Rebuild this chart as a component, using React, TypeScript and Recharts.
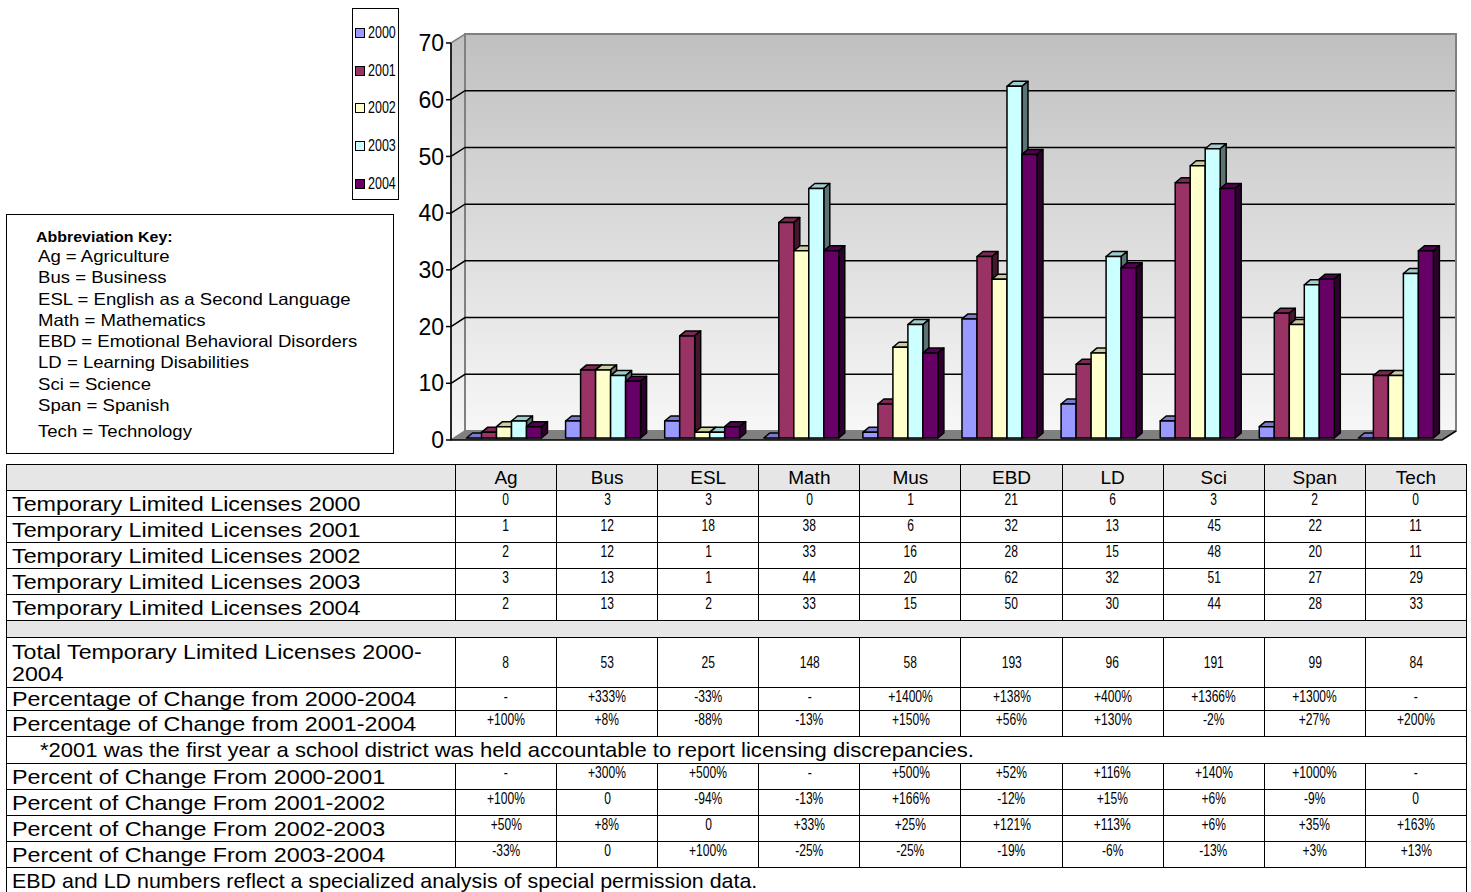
import React from 'react';
import { Bar, BarChart, ReferenceArea, XAxis, YAxis } from 'recharts';

const CATEGORIES = ['Ag', 'Bus', 'ESL', 'Math', 'Mus', 'EBD', 'LD', 'Sci', 'Span', 'Tech'];
const YEARS = ['2000', '2001', '2002', '2003', '2004'];
const YEAR_COLORS = ['#9999FF', '#993366', '#FFFFCC', '#CCFFFF', '#660066'];

// bar heights as drawn in the chart
const BARS_2000 = [0, 3, 3, 0, 1, 21, 6, 3, 2, 0];
const BARS_2001 = [1, 12, 18, 38, 6, 32, 13, 45, 22, 11];
const BARS_2002 = [2, 12, 1, 33, 16, 28, 15, 48, 20, 11];
const BARS_2003 = [3, 11, 1, 44, 20, 62, 32, 51, 27, 29];
const BARS_2004 = [2, 10, 2, 33, 15, 50, 30, 44, 28, 33];
const SERIES = [BARS_2000, BARS_2001, BARS_2002, BARS_2003, BARS_2004];

const Y_TICKS = [0, 10, 20, 30, 40, 50, 60, 70];
const Y_MAX = 70;

const ABBREVIATIONS = [
  'Ag = Agriculture',
  'Bus = Business',
  'ESL = English as a Second Language',
  'Math = Mathematics',
  'EBD = Emotional Behavioral Disorders',
  'LD = Learning Disabilities',
  'Sci = Science',
  'Span = Spanish',
  'Tech = Technology',
];

// table below the chart
const TLL_ROWS: [string, string[]][] = [
  ['Temporary Limited Licenses 2000', ['0', '3', '3', '0', '1', '21', '6', '3', '2', '0']],
  ['Temporary Limited Licenses 2001', ['1', '12', '18', '38', '6', '32', '13', '45', '22', '11']],
  ['Temporary Limited Licenses 2002', ['2', '12', '1', '33', '16', '28', '15', '48', '20', '11']],
  ['Temporary Limited Licenses 2003', ['3', '13', '1', '44', '20', '62', '32', '51', '27', '29']],
  ['Temporary Limited Licenses 2004', ['2', '13', '2', '33', '15', '50', '30', '44', '28', '33']],
];
const TOTALS = ['8', '53', '25', '148', '58', '193', '96', '191', '99', '84'];
const PCT_2000_2004 = ['-', '+333%', '-33%', '-', '+1400%', '+138%', '+400%', '+1366%', '+1300%', '-'];
const PCT_2001_2004 = ['+100%', '+8%', '-88%', '-13%', '+150%', '+56%', '+130%', '-2%', '+27%', '+200%'];
const PCT_2000_2001 = ['-', '+300%', '+500%', '-', '+500%', '+52%', '+116%', '+140%', '+1000%', '-'];
const PCT_2001_2002 = ['+100%', '0', '-94%', '-13%', '+166%', '-12%', '+15%', '+6%', '-9%', '0'];
const PCT_2002_2003 = ['+50%', '+8%', '0', '+33%', '+25%', '+121%', '+113%', '+6%', '+35%', '+163%'];
const PCT_2003_2004 = ['-33%', '0', '+100%', '-25%', '-25%', '-19%', '-6%', '-13%', '+3%', '+13%'];
const NOTE_2001 =
  '*2001 was the first year a school district was held accountable to report licensing discrepancies.';
const NOTE_EBD = 'EBD and LD numbers reflect a specialized analysis of special permission data.';

const FONT = "'Liberation Sans', Arial, sans-serif";
const WALL_DX = 14;
const WALL_DY = 9;
const BAR_DX = 6;
const BAR_DY = 5;

const chartData = CATEGORIES.map((cat, i) => {
  const row: Record<string, string | number> = { cat };
  YEARS.forEach((y, s) => (row[y] = SERIES[s][i]));
  return row;
});

function shade(hex: string, k: number): string {
  const n = parseInt(hex.slice(1), 16);
  const r = Math.round(((n >> 16) & 255) * k);
  const g = Math.round(((n >> 8) & 255) * k);
  const b = Math.round((n & 255) * k);
  return `rgb(${r},${g},${b})`;
}

// Front face + top + right side, shifted slightly into the depth of the floor.
function Bar3D(props: any) {
  const { x, y, width, height, fill } = props;
  if (x == null || y == null) return null;
  const x0 = x + 4;
  const y0 = y - 2;
  const w = width;
  const h = Math.max(height, 0);
  const top = `M${x0},${y0} L${x0 + BAR_DX},${y0 - BAR_DY} L${x0 + w + BAR_DX},${y0 - BAR_DY} L${x0 + w},${y0} Z`;
  const side = `M${x0 + w},${y0} L${x0 + w + BAR_DX},${y0 - BAR_DY} L${x0 + w + BAR_DX},${y0 + h - BAR_DY} L${x0 + w},${y0 + h} Z`;
  return (
    <g stroke="#000" strokeWidth={1.5} strokeLinejoin="round">
      <path d={top} fill={shade(fill, 0.8)} />
      <path d={side} fill={shade(fill, 0.45)} />
      <rect x={x0} y={y0} width={w} height={h} fill={fill} />
    </g>
  );
}

// Back wall, side wall, floor and gridlines of the 3D plot box.
function Walls(props: any) {
  const { x, y, width, height } = props;
  const L = x;
  const R = x + width;
  const T = y;
  const B = y + height;
  const toY = (v: number) => B - (v / Y_MAX) * (B - T);
  return (
    <g>
      <defs>
        <linearGradient id="wallGrad" x1="0" y1="0" x2="0" y2="1">
          <stop offset="0%" stopColor="#c0c0c0" />
          <stop offset="100%" stopColor="#f7f7f7" />
        </linearGradient>
      </defs>
      <polygon
        points={`${L},${T} ${L + WALL_DX},${T - WALL_DY} ${L + WALL_DX},${B - WALL_DY} ${L},${B}`}
        fill="url(#wallGrad)"
        stroke="#808080"
        strokeWidth={1.5}
      />
      <rect
        x={L + WALL_DX}
        y={T - WALL_DY}
        width={R - L}
        height={B - T}
        fill="url(#wallGrad)"
        stroke="#808080"
        strokeWidth={2}
      />
      {Y_TICKS.filter((v) => v > 0 && v < Y_MAX).map((v) => (
        <path
          key={v}
          d={`M${L},${toY(v)} L${L + WALL_DX},${toY(v) - WALL_DY} L${R + WALL_DX - 1},${toY(v) - WALL_DY}`}
          fill="none"
          stroke="#000"
          strokeWidth={1.5}
        />
      ))}
      <polygon
        points={`${L},${B} ${L + WALL_DX},${B - WALL_DY} ${R + WALL_DX},${B - WALL_DY} ${R},${B}`}
        fill="#808080"
        stroke="none"
      />
      <path
        d={`M${L},${B} L${R},${B} L${R + WALL_DX},${B - WALL_DY}`}
        fill="none"
        stroke="#000"
        strokeWidth={1.5}
      />
    </g>
  );
}

function Sq({ s, origin = 'left', children }: { s: number; origin?: string; children: React.ReactNode }) {
  return (
    <span
      style={{
        display: 'inline-block',
        transform: `scaleX(${s})`,
        transformOrigin: origin,
        whiteSpace: 'nowrap',
      }}
    >
      {children}
    </span>
  );
}

const border = '1.5px solid #000';

function LabelCell({ children }: { children: React.ReactNode }) {
  return (
    <td style={{ border, padding: '0 0 0 5px', fontSize: 21, lineHeight: '20px', verticalAlign: 'middle' }}>
      <Sq s={1.11}>{children}</Sq>
    </td>
  );
}

function ValueCells({ values, align = 'top' }: { values: string[]; align?: 'top' | 'middle' }) {
  return (
    <>
      {values.map((v, i) => (
        <td
          key={i}
          style={{
            border,
            padding: 0,
            textAlign: 'center',
            fontSize: 16.5,
            lineHeight: '17px',
            verticalAlign: align,
          }}
        >
          <Sq s={0.73} origin="center">
            {v}
          </Sq>
        </td>
      ))}
    </>
  );
}

function PctRow({ label, values, h }: { label: string; values: string[]; h: number }) {
  return (
    <tr style={{ height: h }}>
      <LabelCell>{label}</LabelCell>
      <ValueCells values={values} />
    </tr>
  );
}

export default function App() {
  return (
    <div
      style={{
        position: 'absolute',
        left: 0,
        top: 0,
        width: 1471,
        height: 892,
        overflow: 'hidden',
        background: '#fff',
        fontFamily: FONT,
        color: '#000',
      }}
    >
      <div style={{ position: 'absolute', left: 0, top: 0 }}>
        <BarChart
          width={1471}
          height={462}
          data={chartData}
          margin={{ top: 43, right: 29, bottom: 22, left: 391 }}
          barCategoryGap="11.6%"
          barGap={0}
        >
          <XAxis dataKey="cat" hide />
          <YAxis
            domain={[0, Y_MAX]}
            ticks={Y_TICKS}
            interval={0}
            width={60}
            tickSize={5}
            tickMargin={2}
            tick={{ fontSize: 23, fill: '#000', fontFamily: FONT }}
            tickLine={{ stroke: '#000', strokeWidth: 1.5 }}
            axisLine={{ stroke: '#000', strokeWidth: 1.5 }}
          />
          <ReferenceArea y1={0} y2={Y_MAX} shape={Walls} ifOverflow="visible" />
          {YEARS.map((y, s) => (
            <Bar key={y} dataKey={y} fill={YEAR_COLORS[s]} shape={Bar3D} isAnimationActive={false} />
          ))}
        </BarChart>
      </div>

      {/* series legend */}
      <div
        style={{
          position: 'absolute',
          left: 352,
          top: 8,
          width: 45,
          height: 190,
          border: '1.5px solid #000',
          background: '#fff',
        }}
      >
        {YEARS.map((y, s) => (
          <div
            key={y}
            style={{
              position: 'absolute',
              left: 2,
              top: 14 + s * 37.7,
              height: 20,
              display: 'flex',
              alignItems: 'center',
              fontSize: 16,
            }}
          >
            <span
              style={{
                display: 'inline-block',
                width: 8,
                height: 8,
                background: YEAR_COLORS[s],
                border: '1.2px solid #000',
                marginRight: 3,
              }}
            />
            <Sq s={0.78}>{y}</Sq>
          </div>
        ))}
      </div>

      {/* abbreviation key */}
      <div
        style={{
          position: 'absolute',
          left: 6,
          top: 214,
          width: 386,
          height: 238,
          border: '1.5px solid #000',
          background: '#fff',
        }}
      >
        <div style={{ position: 'absolute', left: 29, top: 14, fontSize: 14.2, fontWeight: 'bold', lineHeight: '16px' }}>
          <Sq s={1.125}>Abbreviation Key:</Sq>
        </div>
        <div style={{ position: 'absolute', left: 31, top: 31, fontSize: 16.5, lineHeight: '21.3px' }}>
          {ABBREVIATIONS.map((a, i) => (
            <div key={a} style={{ paddingTop: i === ABBREVIATIONS.length - 1 ? 5 : 0 }}>
              <Sq s={1.125}>{a}</Sq>
            </div>
          ))}
        </div>
      </div>

      {/* data table */}
      <table
        style={{
          position: 'absolute',
          left: 6,
          top: 464,
          width: 1460,
          borderCollapse: 'collapse',
          tableLayout: 'fixed',
          fontFamily: FONT,
        }}
      >
        <colgroup>
          <col style={{ width: 449 }} />
          {CATEGORIES.map((c) => (
            <col key={c} style={{ width: 101.1 }} />
          ))}
        </colgroup>
        <tbody>
          <tr style={{ height: 26, background: '#e6e6e6' }}>
            <td style={{ border }} />
            {CATEGORIES.map((c) => (
              <td
                key={c}
                style={{ border, textAlign: 'center', fontSize: 19, lineHeight: '20px', verticalAlign: 'middle', padding: 0 }}
              >
                {c}
              </td>
            ))}
          </tr>
          {TLL_ROWS.map(([label, vals]) => (
            <tr key={label} style={{ height: 26 }}>
              <LabelCell>{label}</LabelCell>
              <ValueCells values={vals} />
            </tr>
          ))}
          <tr style={{ height: 17, background: '#e6e6e6' }}>
            <td colSpan={11} style={{ border, padding: 0 }} />
          </tr>
          <tr style={{ height: 50 }}>
            <td style={{ border, padding: '0 0 0 5px', fontSize: 20, lineHeight: '22px', verticalAlign: 'middle' }}>
              <div>
                <Sq s={1.16}>Total Temporary Limited Licenses 2000-</Sq>
              </div>
              <div>
                <Sq s={1.16}>2004</Sq>
              </div>
            </td>
            <ValueCells values={TOTALS} align="middle" />
          </tr>
          <PctRow label="Percentage of Change from 2000-2004" values={PCT_2000_2004} h={23} />
          <PctRow label="Percentage of Change from 2001-2004" values={PCT_2001_2004} h={26} />
          <tr style={{ height: 27 }}>
            <td colSpan={11} style={{ border, padding: '0 0 0 33px', fontSize: 21, lineHeight: '20px' }}>
              <Sq s={1.05}>{NOTE_2001}</Sq>
            </td>
          </tr>
          <PctRow label="Percent of Change From 2000-2001" values={PCT_2000_2001} h={26} />
          <PctRow label="Percent of Change From 2001-2002" values={PCT_2001_2002} h={26} />
          <PctRow label="Percent of Change From 2002-2003" values={PCT_2002_2003} h={26} />
          <PctRow label="Percent of Change From 2003-2004" values={PCT_2003_2004} h={26} />
          <tr style={{ height: 26 }}>
            <td colSpan={11} style={{ border, padding: '0 0 0 5px', fontSize: 21, lineHeight: '20px' }}>
              <Sq s={1.02}>{NOTE_EBD}</Sq>
            </td>
          </tr>
        </tbody>
      </table>
    </div>
  );
}
